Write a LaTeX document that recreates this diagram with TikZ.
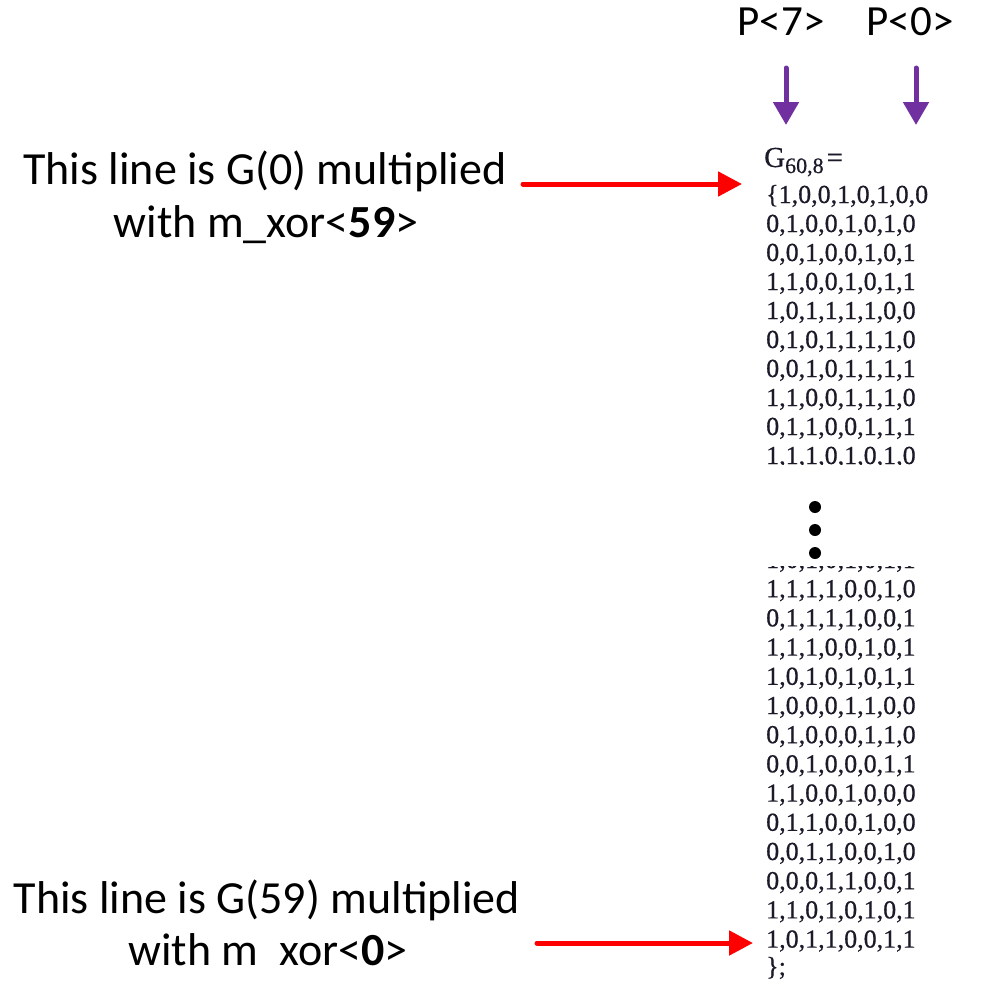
\documentclass[tikz,border=0pt]{standalone}
\usepackage{fontspec}
\setmainfont{Carlito}
\newfontfamily\matfont[FakeBold=0.6]{Liberation Serif}
\usetikzlibrary{arrows.meta}
\definecolor{pointred}{HTML}{FF0000}
\definecolor{bitpurple}{HTML}{7030A0}
\definecolor{matink}{HTML}{1A1A28}
\tikzset{
  lbl/.style={inner sep=0pt, font=\fontsize{46}{55}\selectfont, text=black},
  plbl/.style={inner sep=0pt, font=\fontsize{43}{51}\selectfont, text=black},
  matrow/.style={inner sep=0pt, anchor=base west, font=\matfont\fontsize{26}{29}\selectfont, text=matink},
  redarrow/.style={draw=pointred, line width=5pt, line cap=round,
    -{Triangle[length=24pt,width=24pt]}},
  purplearrow/.style={draw=bitpurple, line width=5pt, line cap=round,
    -{Triangle[length=23pt,width=25pt]}},
  vdot/.style={circle, fill=black, inner sep=0pt, minimum size=12pt}
}
\begin{document}
\begin{tikzpicture}[x=1pt, y=-1pt]
\useasboundingbox (0,0) rectangle (984,983);

% column labels and their arrows
\node[plbl, anchor=base] (p7) at (781,35) {P<7>};
\node[plbl, anchor=base] (p0) at (910,35) {P<0>};
\coordinate (p7s) at (786,68);
\coordinate (p7e) at (786,125);
\coordinate (p0s) at (916,68);
\coordinate (p0e) at (916,125);
\draw[purplearrow] (p7s) -- (p7e);
\draw[purplearrow] (p0s) -- (p0e);

% matrix heading
\node[matrow, font=\matfont\fontsize{29}{29}\selectfont] (gname) at (764,167)
  {G\raisebox{-6pt}{\fontsize{22}{22}\selectfont 60,8}\hspace{3pt}=};

% first rows of the matrix (cut off at the bottom)
\begin{scope}
  \clip (700,140) rectangle (984,464);
  \foreach \r [count=\i from 0] in {
    {\{1,0,0,1,0,1,0,0},
    {0,1,0,0,1,0,1,0},
    {0,0,1,0,0,1,0,1},
    {1,1,0,0,1,0,1,1},
    {1,0,1,1,1,1,0,0},
    {0,1,0,1,1,1,1,0},
    {0,0,1,0,1,1,1,1},
    {1,1,0,0,1,1,1,0},
    {0,1,1,0,0,1,1,1},
    {1,1,1,0,1,0,1,0}}
    \node[matrow] (top\i) at (766,{203+29*\i}) {\r};
\end{scope}

% ellipsis
\node[vdot] (d1) at (815,507) {};
\node[vdot] (d2) at (815,530) {};
\node[vdot] (d3) at (815,553) {};

% last rows of the matrix (cut off at the top)
\begin{scope}
  \clip (700,566) rectangle (984,983);
  \foreach \r [count=\i from 0] in {
    {1,0,1,0,1,0,1,1},
    {1,1,1,1,0,0,1,0},
    {0,1,1,1,1,0,0,1},
    {1,1,1,0,0,1,0,1},
    {1,0,1,0,1,0,1,1},
    {1,0,0,0,1,1,0,0},
    {0,1,0,0,0,1,1,0},
    {0,0,1,0,0,0,1,1},
    {1,1,0,0,1,0,0,0},
    {0,1,1,0,0,1,0,0},
    {0,0,1,1,0,0,1,0},
    {0,0,0,1,1,0,0,1},
    {1,1,0,1,0,1,0,1},
    {1,0,1,1,0,0,1,1}}
    \node[matrow] (bot\i) at (766,{568+29.2*\i}) {\r};
  \node[matrow] (close) at (766,975) {\};};
\end{scope}

% annotations
\node[lbl, anchor=base] (t1) at (265,184) {This line is G(0) multiplied};
\node[lbl, anchor=base] (t2) at (266,237) {with m\_xor<\textbf{59}>};
\node[lbl, anchor=base] (b1) at (267,913) {This line is G(59) multiplied};
\node[lbl, anchor=base] (b2) at (268,965) {with m\ \ xor<\textbf{0}>};

\coordinate (a1s) at (523,184);
\coordinate (a1e) at (742,184);
\coordinate (a2s) at (537,943);
\coordinate (a2e) at (753,943);
\draw[redarrow] (a1s) -- (a1e);
\draw[redarrow] (a2s) -- (a2e);
\end{tikzpicture}
\end{document}
